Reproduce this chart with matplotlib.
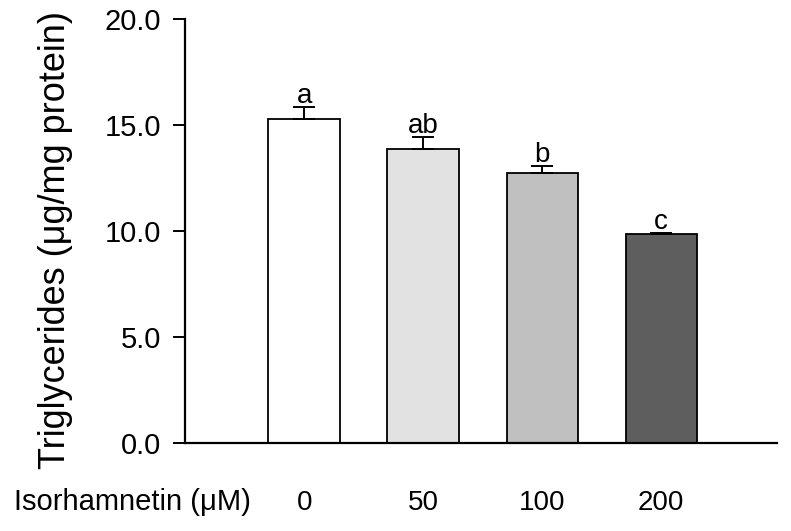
import matplotlib
matplotlib.use('Agg')
import matplotlib.pyplot as plt

plt.rcParams['font.family'] = ['Liberation Sans', 'DejaVu Sans']

doses = ['0', '50', '100', '200']
means = [15.27, 13.88, 12.74, 9.84]
errs = [0.56, 0.54, 0.34, 0.08]
letters = ['a', 'ab', 'b', 'c']
colors = ['#ffffff', '#e2e2e2', '#c0c0c0', '#5e5e5e']

fig = plt.figure(figsize=(7.91, 5.31), dpi=100)
ax = fig.add_axes([0.234, 0.166, 0.748, 0.798])

x = list(range(len(doses)))
ax.bar(x, means, width=0.6, color=colors, edgecolor='black', linewidth=1.3, zorder=2)
ax.errorbar(x, means, yerr=[[0] * len(errs), errs], fmt='none', ecolor='black',
            elinewidth=1.4, capsize=8, capthick=1.4, zorder=3)

for xi, m, e, lab in zip(x, means, errs, letters):
    ax.annotate(lab, (xi, m + e), xytext=(0, 3), textcoords='offset points',
                ha='center', va='baseline', fontsize=20)

ax.set_xlim(-1.0, 3.97)
ax.set_ylim(0, 20)
ax.set_yticks([0, 5, 10, 15, 20])
ax.set_yticklabels(['0.0', '5.0', '10.0', '15.0', '20.0'])
ax.set_xticks(x)
ax.set_xticklabels(doses)
ax.tick_params(axis='x', length=0, pad=34, labelsize=20)
ax.tick_params(axis='y', direction='out', length=8.5, width=1.4, pad=9, labelsize=21)

for s in ['top', 'right']:
    ax.spines[s].set_visible(False)
for s in ['left', 'bottom']:
    ax.spines[s].set_linewidth(1.6)

# y label placed by hand to match the reference (bigger than the ticks)
fig.text(56 / 791, 1 - 240 / 531, 'Triglycerides (μg/mg protein)', fontsize=26,
         rotation=90, ha='center', va='center')
fig.text(0.167, 0.055, 'Isorhamnetin (μM)', fontsize=21, ha='center', va='center')

fig.savefig('out.png', dpi=100)
